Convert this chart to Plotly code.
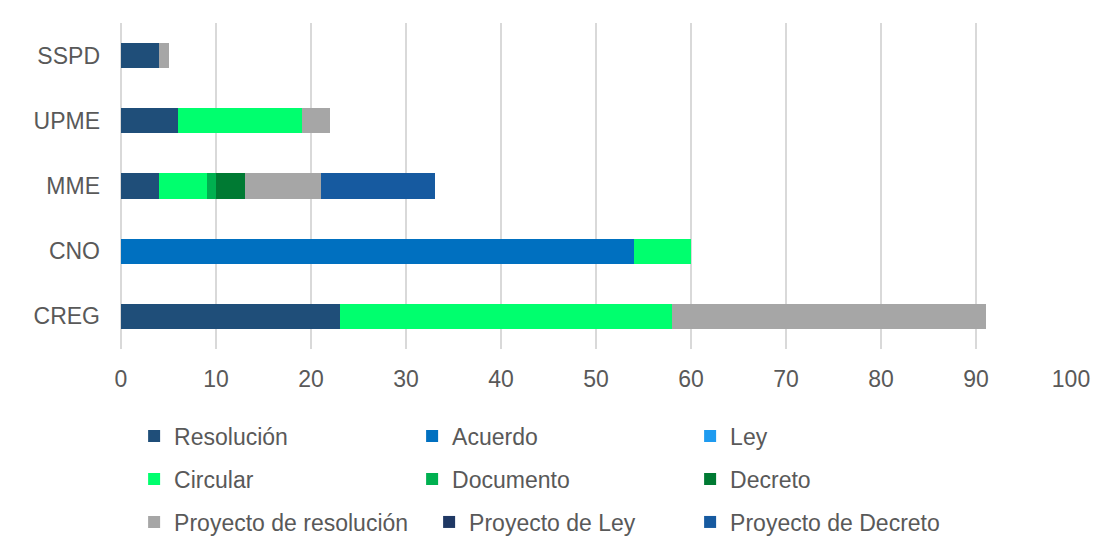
import plotly.graph_objects as go

categories = ["SSPD", "UPME", "MME", "CNO", "CREG"]

resolucion = [4, 6, 4, 0, 23]
acuerdo = [0, 0, 0, 54, 0]
ley = [0, 0, 0, 0, 0]
circular = [0, 13, 5, 6, 35]
documento = [0, 0, 1, 0, 0]
decreto = [0, 0, 3, 0, 0]
proyecto_resolucion = [1, 3, 8, 0, 33]
proyecto_ley = [0, 0, 0, 0, 0]
proyecto_decreto = [0, 0, 12, 0, 0]

x_ticks = [0, 10, 20, 30, 40, 50, 60, 70, 80, 90, 100]

series = [
    ("Resolución", resolucion, "#1F4E79", "legend", 233),
    ("Acuerdo", acuerdo, "#0070C0", "legend", 233),
    ("Ley", ley, "#1E9BF0", "legend", 233),
    ("Circular", circular, "#00FF6E", "legend2", 233),
    ("Documento", documento, "#00B050", "legend2", 233),
    ("Decreto", decreto, "#007A33", "legend2", 233),
    ("Proyecto de resolución", proyecto_resolucion, "#A6A6A6", "legend3", 250),
    ("Proyecto de Ley", proyecto_ley, "#1F3864", "legend3", 216),
    ("Proyecto de Decreto", proyecto_decreto, "#165AA0", "legend3", 233),
]

FONT = "Liberation Sans, Arial, sans-serif"
TXT = "#595959"

fig = go.Figure()
for name, vals, color, leg, lw in series:
    fig.add_trace(go.Bar(
        y=categories, x=vals, name=name, orientation="h",
        marker=dict(color=color, line=dict(width=0)),
        legend=leg, legendwidth=lw,
    ))

W, H = 1093, 538
L, R, T, B = 121, 22, 23, 189
ph = H - T - B

def ly(pix):
    return -(pix - (H - B)) / ph

legend_common = dict(
    orientation="h", xanchor="left", yanchor="middle", x=0.0138,
    font=dict(family=FONT, size=23, color=TXT), bgcolor="rgba(0,0,0,0)",
    itemwidth=30, traceorder="normal", entrywidthmode="pixels",
)

fig.update_layout(
    width=W, height=H,
    margin=dict(l=L, r=R, t=T, b=B, autoexpand=False),
    barmode="stack", bargap=0.615,
    plot_bgcolor="white", paper_bgcolor="white",
    font=dict(family=FONT, size=23, color=TXT),
    xaxis=dict(
        range=[0, 100], tickvals=x_ticks, showgrid=True, gridcolor="#D9D9D9",
        gridwidth=1.5, zeroline=True, zerolinecolor="#D9D9D9", zerolinewidth=1.5,
        showline=False, ticks="", ticklabelstandoff=14,
        tickfont=dict(family=FONT, size=23, color=TXT), fixedrange=True,
    ),
    yaxis=dict(
        autorange="reversed", showgrid=False, zeroline=False, showline=False,
        ticks="", ticklabelstandoff=20,
        tickfont=dict(family=FONT, size=23, color=TXT),
    ),
    legend=dict(legend_common, y=ly(436)),
    legend2=dict(legend_common, y=ly(479)),
    legend3=dict(legend_common, y=ly(522)),
    showlegend=True,
)

fig.write_html("out.html")
